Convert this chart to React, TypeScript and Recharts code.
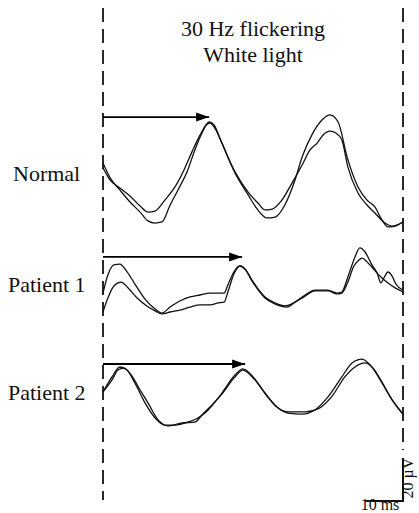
import { Line, LineChart, XAxis, YAxis } from "recharts";

// time in ms, amplitude in µV (relative to each trace's own baseline)
const normalA = [
  [0, 28.8], [1.9, 21.9], [4.5, 16.3], [7.2, 10.7], [9.9, 6.0], [12.0, 1.9], [13.9, 0.9],
  [15.7, 1.4], [17.9, 9.3], [20.0, 16.3], [22.4, 24.6], [24.5, 34.9], [26.4, 42.8], [28.3, 47.9],
  [29.6, 46.5], [31.7, 38.1], [35.2, 24.2], [38.7, 14.0], [41.3, 7.0], [43.7, 3.3], [45.9, 3.7],
  [48.5, 9.3], [51.2, 20.9], [53.1, 31.6], [55.7, 41.9], [58.4, 48.8], [60.5, 51.2], [62.7, 47.9],
  [65.1, 31.6], [68.0, 17.7], [70.4, 11.6], [72.5, 8.4], [74.4, 2.3], [76.0, -0.9], [77.9, -0.5],
  [80.0, 1.4],
];
const normalB = [
  [0, 26.5], [1.9, 20.9], [4.5, 17.2], [7.2, 13.5], [9.9, 8.8], [12.0, 6.0], [13.9, 6.5],
  [16.5, 11.6], [19.2, 17.7], [21.6, 25.6], [23.7, 33.9], [25.9, 41.9], [27.5, 46.5], [28.5, 47.4],
  [30.1, 44.2], [31.7, 38.1], [35.2, 24.7], [38.7, 15.3], [41.3, 10.2], [43.2, 7.0], [45.1, 7.4],
  [47.7, 11.6], [50.4, 19.5], [53.1, 27.9], [55.2, 34.9], [57.1, 38.1], [58.7, 41.9], [60.5, 43.7],
  [62.1, 42.8], [63.7, 39.5], [65.3, 27.0], [68.0, 14.9], [70.4, 9.3], [72.5, 5.6], [75.2, 0.9],
  [77.1, -0.5], [80.0, 1.4],
];
const patient1A = [
  [0, 10.2], [1.3, 18.6], [2.9, 23.3], [4.5, 23.7], [6.1, 20.9], [8.5, 14.4], [11.2, 7.4],
  [13.9, 2.8], [15.7, 0.9], [17.9, 3.7], [20.5, 6.5], [23.2, 8.4], [25.9, 9.3], [28.5, 10.2],
  [30.7, 10.2], [32.3, 10.2], [33.3, 14.0], [34.9, 20.0], [36.5, 22.8], [38.1, 20.9], [39.7, 16.3],
  [41.6, 11.6], [43.2, 8.4], [45.9, 5.6], [48.5, 4.2], [51.2, 6.0], [53.9, 9.3], [56.5, 11.6],
  [60.0, 11.6], [62.4, 10.2], [63.7, 10.7], [65.3, 17.7], [67.2, 27.0], [68.5, 31.2], [69.9, 29.3],
  [71.7, 23.3], [73.1, 19.5], [74.1, 14.9], [74.9, 17.2], [76.0, 20.0], [77.1, 18.1], [78.1, 14.4],
  [80.0, 11.6],
];
const patient1B = [
  [0, 1.4], [1.3, 7.9], [2.9, 13.5], [4.8, 15.3], [6.7, 12.6], [9.1, 7.9], [11.7, 4.2],
  [13.9, 1.9], [15.7, 0.5], [17.9, 1.4], [20.5, 2.3], [23.2, 3.7], [25.9, 4.7], [28.5, 4.7],
  [30.7, 5.6], [32.3, 6.0], [33.3, 10.7], [34.9, 19.1], [36.5, 22.8], [38.1, 20.9], [39.7, 15.8],
  [41.6, 11.2], [43.2, 7.9], [45.9, 5.1], [49.1, 3.7], [51.2, 6.0], [53.9, 8.8], [56.5, 11.2],
  [60.0, 11.2], [62.4, 9.8], [63.7, 10.2], [65.3, 15.3], [66.9, 22.8], [68.0, 25.1], [69.1, 26.5],
  [70.4, 24.7], [71.7, 22.3], [73.1, 19.5], [74.4, 17.2], [76.0, 14.9], [77.9, 12.6], [80.0, 10.7],
];
const patient2A = [
  [0, 16.3], [2.4, 23.3], [4.5, 27.9], [6.4, 26.5], [8.5, 20.5], [11.2, 11.2], [13.9, 4.2],
  [16.5, 0.9], [19.2, 0.9], [22.7, 2.3], [25.3, 4.2], [27.2, 6.5], [31.7, 15.8], [35.2, 24.2],
  [37.3, 27.0], [40.0, 23.3], [43.2, 15.8], [46.4, 9.3], [49.3, 6.5], [53.1, 6.0], [56.5, 7.9],
  [60.0, 14.0], [63.7, 23.3], [66.4, 29.8], [69.1, 31.6], [71.7, 27.9], [74.4, 20.5], [77.1, 12.6],
  [80.0, 6.0],
];
const patient2B = [
  [0, 16.3], [2.4, 21.9], [4.0, 26.5], [5.6, 27.4], [7.5, 24.2], [9.9, 17.2], [12.0, 11.2],
  [14.7, 3.3], [17.3, 0.5], [21.1, 1.9], [24.5, 2.3], [26.4, 5.6], [31.7, 15.3], [35.2, 23.3],
  [37.3, 26.5], [40.5, 21.9], [43.5, 14.9], [46.7, 8.8], [49.3, 7.0], [53.9, 7.0], [57.3, 8.4],
  [61.1, 14.4], [64.5, 23.3], [67.2, 27.9], [69.9, 29.8], [72.0, 27.4], [74.4, 20.9], [77.1, 12.6],
  [80.0, 6.0],
];

// implicit times (ms) and the level of each arrow (µV)
const implicitTimes = { normal: 28.3, patient1: 37.1, patient2: 37.9 };
const arrowLevels = { normal: 50.2, patient1: 27.0, patient2: 29.3 };

// recording window and calibration bar, in the frame axis (µV from bottom)
const T_START = 0;
const T_END = 80;
const frameLeft = [[T_START, 234.9], [T_START, 6.0]];
const frameRight = [[T_END, 234.9], [T_END, 29.3]];
const calBar = [[70, 5.6], [T_END, 5.6], [T_END, 25.6]];

const W = 419;
const H = 513;
const PX_PER_UV = 2.15;
const band = (basePx: number) => [(basePx - H) / PX_PER_UV, basePx / PX_PER_UV];

const pts = (arr: number[][]) => arr.map(([t, v]) => ({ t, v }));

const arrowHead = (props: any) => {
  const { cx, cy, index } = props;
  if (index !== 1) return <g key={`d${index}`} />;
  return (
    <path
      key={`h${index}`}
      d={`M${cx},${cy} L${cx - 13},${cy - 4.5} L${cx - 13},${cy + 4.5} Z`}
      fill="#000"
    />
  );
};

const traceProps = {
  type: "monotone" as const,
  dataKey: "v",
  stroke: "#111",
  strokeWidth: 1.3,
  dot: false,
  isAnimationActive: false,
};

const font = "'Liberation Serif', 'Times New Roman', serif";

export default function App() {
  return (
    <div style={{ position: "absolute", left: 0, top: 0, width: W, height: H, background: "#fff" }}>
      <LineChart width={W} height={H} margin={{ top: 0, right: 12.25, bottom: 0, left: 99.25 }}>
        <XAxis type="number" dataKey="t" domain={[-1, 81]} hide allowDataOverflow />
        <YAxis yAxisId="frame" type="number" domain={band(513)} hide allowDataOverflow />
        <YAxis yAxisId="normal" type="number" domain={band(225)} hide allowDataOverflow />
        <YAxis yAxisId="p1" type="number" domain={band(315)} hide allowDataOverflow />
        <YAxis yAxisId="p2" type="number" domain={band(427)} hide allowDataOverflow />

        <Line yAxisId="frame" data={pts(frameLeft)} type="linear" dataKey="v" stroke="#111"
          strokeWidth={1.8} strokeDasharray="14 7" dot={false} isAnimationActive={false} />
        <Line yAxisId="frame" data={pts(frameRight)} type="linear" dataKey="v" stroke="#111"
          strokeWidth={1.8} strokeDasharray="14 7" dot={false} isAnimationActive={false} />
        <Line yAxisId="frame" data={pts(calBar)} type="linear" dataKey="v" stroke="#111"
          strokeWidth={2} dot={false} isAnimationActive={false} />

        <Line yAxisId="normal" data={pts(normalA)} {...traceProps} />
        <Line yAxisId="normal" data={pts(normalB)} {...traceProps} />
        <Line yAxisId="p1" data={pts(patient1A)} {...traceProps} />
        <Line yAxisId="p1" data={pts(patient1B)} {...traceProps} />
        <Line yAxisId="p2" data={pts(patient2A)} {...traceProps} />
        <Line yAxisId="p2" data={pts(patient2B)} {...traceProps} />

        <Line yAxisId="normal" type="linear" dataKey="v" stroke="#000" strokeWidth={1.8}
          data={pts([[T_START, arrowLevels.normal], [implicitTimes.normal, arrowLevels.normal]])}
          dot={arrowHead} activeDot={false} isAnimationActive={false} />
        <Line yAxisId="p1" type="linear" dataKey="v" stroke="#000" strokeWidth={1.8}
          data={pts([[T_START, arrowLevels.patient1], [implicitTimes.patient1, arrowLevels.patient1]])}
          dot={arrowHead} activeDot={false} isAnimationActive={false} />
        <Line yAxisId="p2" type="linear" dataKey="v" stroke="#000" strokeWidth={1.8}
          data={pts([[T_START, arrowLevels.patient2], [implicitTimes.patient2, arrowLevels.patient2]])}
          dot={arrowHead} activeDot={false} isAnimationActive={false} />
      </LineChart>

      <svg width={W} height={H} style={{ position: "absolute", left: 0, top: 0, pointerEvents: "none" }}>
        <g fontFamily={font} fontSize={22} fill="#111">
          <text x={253} y={36} textAnchor="middle">30 Hz flickering</text>
          <text x={253} y={62} textAnchor="middle">White light</text>
          <text x={13} y={181}>Normal</text>
          <text x={8} y={292}>Patient 1</text>
          <text x={8} y={400}>Patient 2</text>
        </g>
        <g fontFamily={font} fontSize={16} fill="#111">
          <text x={380} y={510} textAnchor="middle">10 ms</text>
          <text x={0} y={0} textAnchor="middle" transform="translate(413 478) rotate(-90)">20 µV</text>
        </g>
      </svg>
    </div>
  );
}
